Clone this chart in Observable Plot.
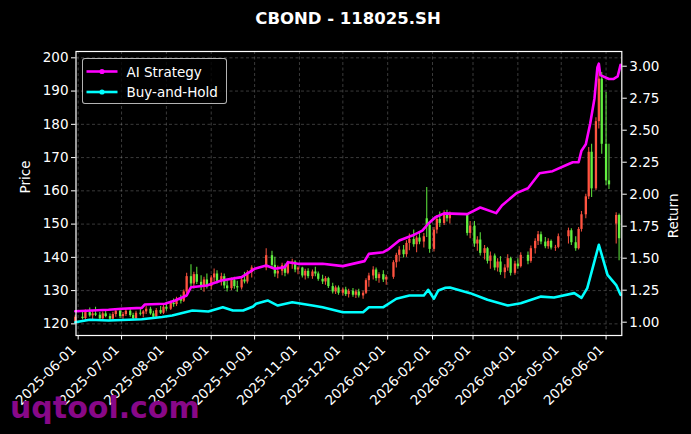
<!DOCTYPE html>
<html><head><meta charset="utf-8">
<script src="https://cdn.jsdelivr.net/npm/d3@7"></script>
<script src="https://cdn.jsdelivr.net/npm/@observablehq/plot@0.6"></script>
<style>
html,body{margin:0;padding:0;background:#000;}
#wrap{position:relative;width:691px;height:434px;background:#000;overflow:hidden;font-family:"DejaVu Sans",sans-serif;color:#fff;}
#title{position:absolute;left:0;top:9px;width:696px;text-align:center;font-weight:bold;font-size:16.5px;line-height:normal;}
#plot{position:absolute;left:0;top:40px;}
#legend{position:absolute;left:82px;top:58px;width:143px;height:44px;border:1px solid rgba(210,210,210,0.85);border-radius:3px;background:rgba(0,0,0,0.8);}
#legend svg{position:absolute;left:0;top:0;}
#wm{position:absolute;left:10px;top:390px;font-weight:bold;font-size:30px;line-height:normal;color:#880888;}
</style></head>
<body>
<div id="wrap">
  <div id="title">CBOND - 118025.SH</div>
  <div id="plot"></div>
  <div id="legend"></div>
  <div id="wm">uqtool.com</div>
</div>
<script>
// ---- data ----
const candles = [
["2025-05-30",120.5,122.6,120.0,122.0],["2025-06-04",122.0,123.5,121.2,121.6],["2025-06-06",121.6,124.2,121.0,123.4],
["2025-06-09",123.4,124.8,122.0,122.4],["2025-06-11",122.4,123.8,121.3,123.0],["2025-06-13",123.0,125.0,122.2,122.6],
["2025-06-16",122.6,123.4,121.0,121.5],["2025-06-18",121.5,123.6,121.0,123.0],["2025-06-20",123.0,124.2,121.8,122.2],
["2025-06-23",122.2,123.0,120.8,121.4],["2025-06-25",121.4,123.5,121.0,122.8],["2025-06-27",122.8,124.6,122.0,123.8],
["2025-06-30",123.8,124.2,121.6,122.2],
["2025-07-02",122.2,123.4,121.4,122.8],["2025-07-04",122.8,124.5,122.2,123.8],["2025-07-07",123.8,124.8,122.0,122.5],
["2025-07-09",122.5,123.2,121.0,121.6],["2025-07-11",121.6,123.8,121.2,123.2],["2025-07-14",123.2,124.5,122.4,122.9],
["2025-07-16",122.9,124.0,121.8,123.6],["2025-07-18",123.6,125.2,122.8,124.4],["2025-07-21",124.4,125.0,122.6,123.0],
["2025-07-23",123.0,123.8,121.5,122.0],["2025-07-25",122.0,124.6,121.6,124.0],["2025-07-28",124.0,125.2,122.8,123.2],
["2025-07-30",123.2,125.8,122.8,125.0],
["2025-08-01",125.0,126.0,123.8,124.4],["2025-08-04",124.4,126.8,124.0,126.2],["2025-08-06",126.2,127.5,125.0,125.8],
["2025-08-08",125.8,128.0,125.2,127.4],["2025-08-11",127.4,128.6,126.0,126.8],["2025-08-13",126.8,130.2,126.4,129.6],
["2025-08-15",129.6,135.2,129.0,134.2],["2025-08-18",134.2,137.8,131.0,132.0],["2025-08-20",132.0,135.5,130.5,134.8],
["2025-08-22",134.8,137.0,131.8,132.5],["2025-08-25",132.5,134.5,130.0,131.0],["2025-08-27",131.0,134.0,129.5,133.2],
["2025-08-29",133.2,135.0,130.5,131.2],
["2025-09-01",131.2,134.5,130.2,133.8],["2025-09-03",133.8,136.5,132.5,135.0],["2025-09-05",135.0,136.0,132.0,132.8],
["2025-09-08",132.8,135.2,131.4,134.2],["2025-09-10",134.2,135.0,130.5,131.4],["2025-09-12",131.4,133.0,129.6,130.6],
["2025-09-15",130.6,133.8,130.0,133.0],["2025-09-17",133.0,134.0,130.4,131.2],["2025-09-19",131.2,132.8,129.5,130.8],
["2025-09-22",130.8,134.0,130.2,133.2],["2025-09-24",133.2,135.5,132.0,132.6],["2025-09-26",132.6,136.0,132.0,135.4],
["2025-09-29",135.4,137.5,133.8,136.8],
["2025-10-09",136.8,142.6,136.0,140.5],["2025-10-13",140.5,141.8,136.8,137.6],["2025-10-15",137.6,140.0,134.0,135.0],
["2025-10-17",135.0,137.4,133.6,135.8],["2025-10-20",135.8,138.2,134.5,137.5],["2025-10-22",137.5,138.0,134.2,135.2],
["2025-10-24",135.2,138.8,134.8,138.2],["2025-10-27",138.2,139.4,136.4,138.6],["2025-10-29",138.6,139.0,135.4,136.2],
["2025-10-31",136.2,137.2,134.8,136.8],
["2025-11-03",136.8,137.0,133.8,134.4],["2025-11-05",134.4,136.4,133.2,135.8],["2025-11-07",135.8,136.6,133.6,134.2],
["2025-11-10",134.2,136.2,133.4,135.6],["2025-11-12",135.6,137.0,134.2,135.0],["2025-11-14",135.0,135.6,132.8,133.4],
["2025-11-17",133.4,134.6,131.8,132.6],["2025-11-19",132.6,134.2,131.6,133.6],["2025-11-21",133.6,134.0,130.6,131.2],
["2025-11-24",131.2,132.2,129.0,129.6],["2025-11-26",129.6,131.4,128.8,130.8],["2025-11-28",130.8,131.4,128.6,129.2],
["2025-12-01",129.2,130.8,128.4,130.2],["2025-12-03",130.2,131.0,128.2,128.8],["2025-12-05",128.8,130.4,127.8,129.8],
["2025-12-08",129.8,130.6,128.0,128.6],["2025-12-10",128.6,130.2,127.6,129.6],["2025-12-12",129.6,130.4,127.8,128.4],
["2025-12-15",128.4,129.8,127.4,129.2],["2025-12-17",129.2,133.6,128.8,133.0],["2025-12-19",133.0,135.2,131.0,134.4],
["2025-12-22",134.4,137.2,133.2,136.2],["2025-12-24",136.2,136.8,132.8,133.6],["2025-12-26",133.6,135.4,132.2,134.8],
["2025-12-29",134.8,136.0,132.4,133.2],["2025-12-31",133.2,134.6,131.6,134.0],
["2026-01-05",134.0,139.0,133.4,138.4],["2026-01-07",138.4,141.2,136.8,140.6],["2026-01-09",140.6,143.2,138.6,142.2],
["2026-01-12",142.2,143.6,139.8,140.8],["2026-01-14",140.8,145.0,140.0,144.2],["2026-01-16",144.2,147.0,142.0,145.4],
["2026-01-19",145.4,148.2,143.0,143.8],["2026-01-21",143.8,146.4,141.4,145.8],["2026-01-23",145.8,147.6,143.8,144.6],
["2026-01-26",144.6,147.2,142.8,146.2],["2026-01-28",151.6,161.0,146.0,149.6],["2026-01-30",149.6,150.8,141.2,142.4],
["2026-02-02",142.4,149.0,141.6,148.2],["2026-02-04",148.2,152.6,147.0,151.4],["2026-02-06",151.4,153.6,149.0,150.2],
["2026-02-09",150.2,154.0,149.6,153.2],["2026-02-11",153.2,154.2,150.6,151.6],["2026-02-13",151.6,153.6,150.0,152.8],
["2026-02-25",152.8,153.2,146.4,147.2],["2026-02-27",147.2,150.8,145.6,149.4],
["2026-03-02",149.4,150.8,143.0,144.0],["2026-03-04",144.0,146.2,141.8,145.2],["2026-03-06",145.2,147.4,140.4,141.2],
["2026-03-09",141.2,143.6,139.2,142.6],["2026-03-11",142.6,143.0,138.0,138.8],["2026-03-13",138.8,141.6,136.4,140.4],
["2026-03-16",140.4,141.0,136.0,136.8],["2026-03-18",136.8,139.6,135.6,138.6],["2026-03-20",138.6,140.2,134.6,135.4],
["2026-03-23",135.4,137.8,133.6,136.8],["2026-03-25",136.8,140.8,135.8,139.6],["2026-03-27",139.6,140.0,134.4,135.2],
["2026-03-30",135.2,138.8,134.6,138.0],
["2026-04-01",138.0,139.6,136.4,137.2],["2026-04-03",137.2,141.4,136.8,140.6],["2026-04-08",140.6,141.6,137.8,138.8],
["2026-04-10",138.8,143.4,138.2,142.6],["2026-04-13",142.6,145.6,141.0,144.8],["2026-04-15",144.8,147.8,143.6,146.8],
["2026-04-17",146.8,147.6,143.8,144.6],["2026-04-20",144.6,146.0,142.6,143.2],["2026-04-22",143.2,145.6,142.4,144.8],
["2026-04-24",144.8,145.2,142.2,142.8],["2026-04-27",142.8,143.6,141.8,143.0],["2026-04-29",143.0,147.0,142.6,146.2],
["2026-05-06",146.2,148.8,144.0,148.0],["2026-05-08",148.0,148.6,143.6,144.4],["2026-05-11",144.4,146.2,141.8,142.6],
["2026-05-13",142.6,149.0,142.2,148.4],["2026-05-15",148.4,153.8,147.6,152.8],["2026-05-18",152.8,159.0,151.6,158.2],
["2026-05-20",158.2,173.0,157.4,171.6],["2026-05-22",171.6,174.0,158.0,160.6],["2026-05-25",160.6,182.0,160.0,180.8],
["2026-05-27",180.8,198.3,178.6,193.6],["2026-05-29",193.6,195.6,171.0,174.0],
["2026-06-01",174.0,189.6,161.6,163.0],["2026-06-03",163.0,174.0,160.4,161.8],["2026-06-08",150.0,153.4,144.0,152.6],
["2026-06-10",152.6,153.0,139.0,145.6]
];

const aiDates = ["2025-05-30","2025-06-22","2025-07-01","2025-07-15","2025-07-17","2025-07-31","2025-08-07","2025-08-15","2025-08-18","2025-08-29",
"2025-09-08","2025-09-22","2025-10-01","2025-10-09","2025-10-15","2025-10-22","2025-10-24","2025-10-31","2025-11-17","2025-12-01",
"2025-12-16","2025-12-19","2025-12-29","2026-01-02","2026-01-09","2026-01-18","2026-01-25","2026-01-29","2026-02-03","2026-02-09",
"2026-02-25","2026-03-06","2026-03-17","2026-03-21","2026-03-31","2026-04-08","2026-04-16","2026-04-25","2026-05-05","2026-05-09",
"2026-05-13","2026-05-15","2026-05-18","2026-05-21","2026-05-24","2026-05-26","2026-05-27","2026-05-28","2026-06-03","2026-06-06",
"2026-06-09","2026-06-11"];
const aiValues = [1.085,1.097,1.105,1.112,1.138,1.144,1.170,1.209,1.273,1.287,
1.326,1.352,1.417,1.443,1.417,1.430,1.469,1.456,1.456,1.438,
1.477,1.534,1.547,1.573,1.638,1.677,1.716,1.769,1.820,1.850,
1.844,1.896,1.852,1.912,2.008,2.047,2.164,2.180,2.230,2.250,
2.250,2.340,2.390,2.550,2.750,2.990,3.020,2.930,2.900,2.900,
2.920,3.010];

const bhDates = ["2025-05-30","2025-06-09","2025-06-22","2025-07-06","2025-07-15","2025-07-29","2025-08-05","2025-08-19","2025-08-30","2025-09-09",
"2025-09-16","2025-09-23","2025-09-30","2025-10-02","2025-10-10","2025-10-17","2025-10-27","2025-11-10","2025-11-17","2025-12-01",
"2025-12-15","2025-12-19","2025-12-29","2026-01-07","2026-01-16","2026-01-26","2026-01-29","2026-02-02","2026-02-05","2026-02-10",
"2026-02-13","2026-02-27","2026-03-11","2026-03-25","2026-04-03","2026-04-17","2026-04-26","2026-05-10","2026-05-15","2026-05-19",
"2026-05-27","2026-06-02","2026-06-08","2026-06-11"];
const bhValues = [1.000,1.019,1.013,1.019,1.023,1.040,1.052,1.091,1.084,1.117,
1.091,1.091,1.123,1.144,1.170,1.130,1.156,1.130,1.117,1.078,
1.078,1.117,1.117,1.183,1.209,1.209,1.253,1.183,1.248,1.269,
1.271,1.227,1.175,1.130,1.148,1.200,1.193,1.227,1.190,1.266,
1.605,1.370,1.290,1.214];

const priceTicks = [120,130,140,150,160,170,180,190,200];
const returnTicks = [1.00,1.25,1.50,1.75,2.00,2.25,2.50,2.75,3.00];
const monthTicks = ["2025-06-01","2025-07-01","2025-08-01","2025-09-01","2025-10-01","2025-11-01","2025-12-01",
"2026-01-01","2026-02-01","2026-03-01","2026-04-01","2026-05-01","2026-06-01"];

// ---- scales ----
const priceDomain = [116.5, 201.9];
const returnDomain = [0.896, 3.115];
const k = (priceDomain[1]-priceDomain[0])/(returnDomain[1]-returnDomain[0]);
const toP = r => priceDomain[0] + (r - returnDomain[0]) * k;
const fromP = p => returnDomain[0] + (p - priceDomain[0]) / k;

const pd = s => new Date(s + "T00:00:00Z");
const cdata = candles.map(([d,o,h,l,c]) => ({date: pd(d), open:o, high:h, low:l, close:c}));
const ai = aiDates.map((d,i) => ({date: pd(d), v: aiValues[i]}));
const bh = bhDates.map((d,i) => ({date: pd(d), v: bhValues[i]}));
const months = monthTicks.map(pd);
const upCol = "#ff5340", downCol = "#62f040";
const col = d => d.close >= d.open ? upCol : downCol;
const fmt = d3.utcFormat("%Y-%m-%d");
const FS = 13.5;

const chart = Plot.plot({
  width: 691, height: 394,
  marginTop: 11, marginBottom: 99, marginLeft: 75.5, marginRight: 69.7,
  style: {background: "transparent", color: "#fff", fontFamily: "DejaVu Sans", fontSize: FS + "px"},
  x: {type: "utc", domain: [new Date("2025-05-30T12:00:00Z"), new Date("2026-06-11T21:00:00Z")]},
  y: {domain: priceDomain},
  marks: [
    Plot.gridY(priceTicks, {stroke: "#b8b8b8", strokeOpacity: 0.4, strokeWidth: 0.8, strokeDasharray: "3,2.5"}),
    Plot.gridX(months, {stroke: "#b8b8b8", strokeOpacity: 0.4, strokeWidth: 0.8, strokeDasharray: "3,2.5"}),
    Plot.ruleX(cdata, {x: "date", y1: "low", y2: "high", stroke: col, strokeWidth: 1.1, strokeOpacity: 0.9}),
    Plot.ruleX(cdata, {x: "date", y1: "open", y2: "close", stroke: col, strokeWidth: 2.3}),
    Plot.line(ai, {x: "date", y: d => toP(d.v), stroke: "#ff00ff", strokeWidth: 2.6}),
    Plot.line(bh, {x: "date", y: d => toP(d.v), stroke: "#00ffff", strokeWidth: 2.6}),
    Plot.frame({stroke: "#fff", strokeWidth: 1.2}),
    Plot.axisY(priceTicks, {anchor: "left", tickSize: 4.5, tickPadding: 3, label: null, tickFormat: d => String(d)}),
    Plot.axisY(returnTicks.map(toP), {anchor: "right", tickSize: 4.5, tickPadding: 3, label: null,
      tickFormat: d => (Math.round(fromP(d)*100)/100).toFixed(2)}),
    Plot.axisX(months, {anchor: "bottom", tickSize: 4.5, label: null, tickFormat: () => ""}),
    Plot.text(months, {x: d => d, frameAnchor: "bottom", text: d => fmt(d), rotate: -45,
      textAnchor: "end", lineAnchor: "middle", dx: -4.5, dy: 12, fill: "#fff", fontSize: FS}),
    Plot.text(["Price"], {frameAnchor: "left", dx: -50.5, rotate: -90, fill: "#fff", fontSize: FS}),
    Plot.text(["Return"], {frameAnchor: "right", dx: 51.7, rotate: -90, fill: "#fff", fontSize: FS})
  ]
});
document.getElementById("plot").appendChild(chart);

// ---- legend ----
const legendItems = [["AI Strategy", "#ff00ff"], ["Buy-and-Hold", "#00ffff"]];
const lsvg = d3.select("#legend").append("svg").attr("width", 145).attr("height", 46);
legendItems.forEach(([name, c], i) => {
  const y = 12.5 + i * 20.5;
  lsvg.append("line").attr("x1", 3.5).attr("x2", 34.5).attr("y1", y).attr("y2", y).attr("stroke", c).attr("stroke-width", 2.6);
  lsvg.append("circle").attr("cx", 19).attr("cy", y).attr("r", 2.6).attr("fill", c);
  lsvg.append("text").attr("x", 43.5).attr("y", y + 5).attr("fill", "#fff")
    .attr("font-family", "DejaVu Sans").attr("font-size", FS).text(name);
});
</script>
</body></html>
